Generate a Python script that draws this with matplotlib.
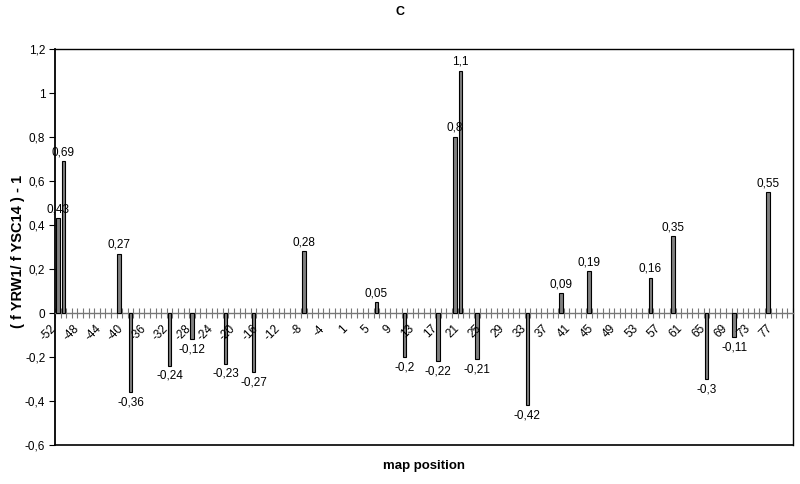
import numpy as np
import matplotlib
matplotlib.use("Agg")
import matplotlib.pyplot as plt
from matplotlib.ticker import FixedLocator, FuncFormatter

plt.rcParams['font.family'] = ['Liberation Sans', 'DejaVu Sans']

# map positions on the category axis (there is no position 0)
categories = list(range(-52, 0)) + list(range(1, 81))

# positions that carry a bar, and their values
bar_positions = [-52, -51, -41, -39, -32, -28, -22, -17, -8, 6, 11, 17, 20, 21,
                 24, 33, 39, 44, 55, 59, 65, 70, 76]
bar_values = [0.43, 0.69, 0.27, -0.36, -0.24, -0.12, -0.23, -0.27, 0.28, 0.05,
              -0.2, -0.22, 0.8, 1.1, -0.21, -0.42, 0.09, 0.19, 0.16, 0.35,
              -0.3, -0.11, 0.55]

tick_labels = categories[::4]
y_ticks = [-0.6, -0.4, -0.2, 0, 0.2, 0.4, 0.6, 0.8, 1, 1.2]


def comma(v):
	#Decimal comma, like the original
	if abs(v) < 1e-9:
		return "0"
	return f"{round(v, 2):g}".replace(".", ",")


fig = plt.figure(figsize=(8, 4.84), dpi=100)
ax = fig.add_axes([55/800, 1-445/484, (793-55)/800, (445-49)/484])

idx = [categories.index(p) for p in bar_positions]
ax.bar(idx, bar_values, width=0.65, color="#808080", edgecolor="black", linewidth=0.8, zorder=3)

#Data labels above / below each bar
for i, v in zip(idx, bar_values):
	if v >= 0:
		ax.annotate(comma(v), (i, v), xytext=(0, 3), textcoords="offset pixels",
					ha="center", va="bottom", fontsize=8.5, zorder=4)
	else:
		ax.annotate(comma(v), (i, v), xytext=(0, -4), textcoords="offset pixels",
					ha="center", va="top", fontsize=8.5, zorder=4)

ax.set_xlim(-0.5, len(categories) - 0.5)
ax.set_ylim(-0.6, 1.2)

#Category axis sits on the zero line
ax.spines["bottom"].set_position(("data", 0))
ax.spines["bottom"].set_color("#777777")
ax.spines["bottom"].set_linewidth(1.0)
ax.xaxis.set_major_locator(FixedLocator(np.arange(len(categories))[::4]))
ax.xaxis.set_minor_locator(FixedLocator(np.arange(len(categories) + 1) - 0.5))
ax.set_xticklabels([])
ax.tick_params(axis="x", which="major", length=0)
ax.tick_params(axis="x", which="minor", direction="inout", length=7, width=0.8, color="#777777")

for k, lab in enumerate(tick_labels):
	ax.annotate(str(lab), (k * 4, 0), xytext=(-3, -14), textcoords="offset pixels",
				ha="right", va="center", rotation=45, rotation_mode="anchor", fontsize=8.5)

#Plot area border
ax.axhline(-0.6, color="black", linewidth=1.2, clip_on=False, zorder=5)
for s in ["left", "right", "top"]:
	ax.spines[s].set_linewidth(1.0)
ax.spines["left"].set_linewidth(1.3)

ax.yaxis.set_major_locator(FixedLocator(y_ticks))
ax.yaxis.set_major_formatter(FuncFormatter(lambda v, p: comma(v)))
ax.tick_params(axis="y", direction="out", length=4, labelsize=8.5, pad=3)

fig.text(18/800, 1 - 251/484, "( f YRW1/ f YSC14 ) - 1", rotation=90, ha="center", va="center",
		 fontsize=10.5, fontweight="bold")
fig.text(0.4995, 1 - 12/484, "C", ha="center", va="center", fontsize=9, fontweight="bold")
fig.text((55 + 793) / 2 / 800, 1 - 466/484, "map position", ha="center", va="center",
		 fontsize=9.5, fontweight="bold")

fig.savefig("out.png", dpi=100)
